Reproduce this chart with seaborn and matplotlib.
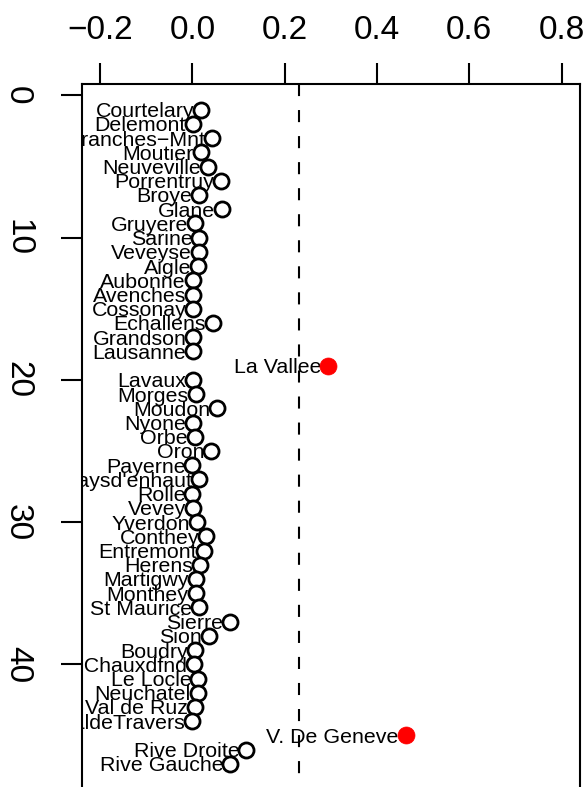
import matplotlib
matplotlib.use("Agg")
from matplotlib import pyplot as plt
import numpy as np
import pandas as pd
import seaborn as sns

# Cantoni (swiss) e valori
cantoni = ["Courtelary", "Delemont", "Franches\u2212Mnt", "Moutier", "Neuveville",
           "Porrentruy", "Broye", "Glane", "Gruyere", "Sarine", "Veveyse", "Aigle",
           "Aubonne", "Avenches", "Cossonay", "Echallens", "Grandson", "Lausanne",
           "La Vallee", "Lavaux", "Morges", "Moudon", "Nyone", "Orbe", "Oron",
           "Payerne", "Paysd'enhaut", "Rolle", "Vevey", "Yverdon", "Conthey",
           "Entremont", "Herens", "Martigwy", "Monthey", "St Maurice", "Sierre",
           "Sion", "Boudry", "La Chauxdfnd", "Le Locle", "Neuchatel", "Val de Ruz",
           "ValdeTravers", "V. De Geneve", "Rive Droite", "Rive Gauche"]

valori = [0.019, 0.001, 0.042, 0.018, 0.033, 0.062, 0.015, 0.065, 0.005, 0.015,
          0.014, 0.012, 0.001, 0.001, 0.002, 0.044, 0.002, 0.001, 0.294, 0.001,
          0.007, 0.053, 0.001, 0.005, 0.041, 0.000, 0.014, 0.000, 0.002, 0.010,
          0.030, 0.024, 0.017, 0.007, 0.007, 0.014, 0.082, 0.036, 0.005, 0.003,
          0.013, 0.011, 0.006, 0.000, 0.462, 0.117, 0.082]

soglia = 0.23
xticks = [-0.2, 0.0, 0.2, 0.4, 0.6, 0.8]
yticks = [0, 10, 20, 30, 40]

df = pd.DataFrame({"cantone": cantoni, "valore": valori,
                   "indice": np.arange(1, len(cantoni) + 1)})
df["alto"] = df["valore"] > soglia

sns.set_style("white")
plt.rcParams["font.family"] = ["Liberation Sans", "DejaVu Sans"]
plt.rcParams["text.color"] = "black"
plt.rcParams["xtick.color"] = "black"
plt.rcParams["ytick.color"] = "black"
plt.rcParams["axes.unicode_minus"] = True

W, H = 588, 787
fig = plt.figure(figsize=(W / 100, H / 100), dpi=100)
top_px, bot_px, left_px, right_px = 83.5, 790, 81.7, 580
ax = fig.add_axes([left_px / W, (H - bot_px) / H,
                   (right_px - left_px) / W, (bot_px - top_px) / H])

ylim = (48.84, -0.84)
xlim = (-0.24, 0.84)

# linea tratteggiata della soglia
ax.plot([soglia, soglia], [ylim[1], ylim[0]], color="black", lw=1.5,
        linestyle=(0, (5.8, 6.7)), zorder=1)

# punti normali e punti sopra soglia
sns.scatterplot(data=df[~df["alto"]], x="valore", y="indice", ax=ax,
                marker="o", s=118, facecolor="white", edgecolor="black",
                linewidth=2.0, zorder=3)
sns.scatterplot(data=df[df["alto"]], x="valore", y="indice", ax=ax,
                marker="o", s=150, color="red", edgecolor="red",
                linewidth=0.5, zorder=3)

# etichette a sinistra dei punti
for _, r in df.iterrows():
    ax.annotate(r["cantone"], (r["valore"], r["indice"]),
                xytext=(-5, 0), textcoords="offset points",
                ha="right", va="center_baseline", fontsize=15.4, color="black",
                annotation_clip=False, clip_on=True, zorder=2)

ax.set_xlim(xlim)
ax.set_ylim(ylim)
ax.set_xlabel("")
ax.set_ylabel("")
ax.xaxis.tick_top()
ax.set_xticks(xticks)
ax.set_xticklabels([f"{v:.1f}".replace("-", "\u2212") for v in xticks])
ax.set_yticks(yticks)
ax.set_yticklabels([str(v) for v in yticks], rotation=-90, va="center")
ax.tick_params(axis="x", which="both", top=True, bottom=False, length=15,
               width=1.5, pad=12, labelsize=24, color="black", labelcolor="black")
ax.tick_params(axis="y", which="both", left=True, length=15,
               width=1.5, pad=20, labelsize=24, color="black", labelcolor="black")
for s in ax.spines.values():
    s.set_visible(True)
    s.set_color("black")
    s.set_linewidth(1.5)

fig.savefig("out.png", dpi=100)
